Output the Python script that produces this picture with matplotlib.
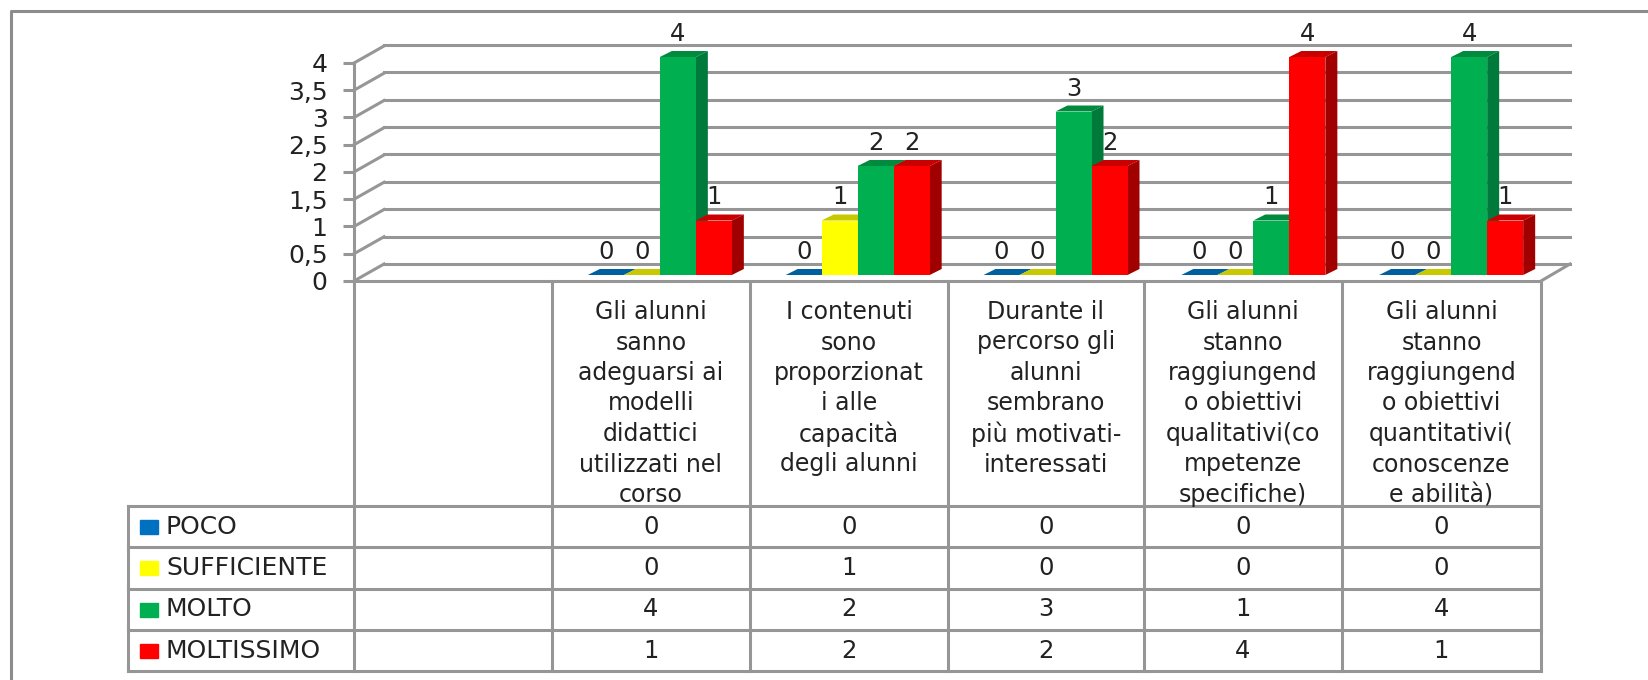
import matplotlib
matplotlib.use("Agg")
import matplotlib.pyplot as plt
from matplotlib.patches import Rectangle
from matplotlib.transforms import ScaledTranslation

W, H = 1649, 680
GREY = "#969696"
TXT = "#222222"

categories = [
    ["Gli alunni", "sanno", "adeguarsi ai", "modelli", "didattici", "utilizzati nel", "corso"],
    ["I contenuti", "sono", "proporzionat", "i alle", "capacità", "degli alunni"],
    ["Durante il", "percorso gli", "alunni", "sembrano", "più motivati-", "interessati"],
    ["Gli alunni", "stanno", "raggiungend", "o obiettivi", "qualitativi(co", "mpetenze", "specifiche)"],
    ["Gli alunni", "stanno", "raggiungend", "o obiettivi", "quantitativi(", "conoscenze", "e abilità)"],
]
series_names = ["POCO", "SUFFICIENTE", "MOLTO", "MOLTISSIMO"]
poco = [0, 0, 0, 0, 0]
sufficiente = [0, 1, 0, 0, 0]
molto = [4, 2, 3, 1, 4]
moltissimo = [1, 2, 2, 4, 1]
y_ticks = [0, 0.5, 1, 1.5, 2, 2.5, 3, 3.5, 4]
y_labels = ["0", "0,5", "1", "1,5", "2", "2,5", "3", "3,5", "4"]

all_series = [poco, sufficiente, molto, moltissimo]
front_cols = ["#0070C0", "#FFFF00", "#00B050", "#FF0000"]
top_cols = ["#005F9E", "#C8C800", "#008A3E", "#C80000"]
side_cols = ["#005080", "#A0A000", "#007A3A", "#A00000"]

plt.rcParams["font.family"] = ["DejaVu Sans"]
plt.rcParams["font.size"] = 16


def ax_px(fig, left, top, right, bottom):
    a = fig.add_axes([left / W, 1 - bottom / H, (right - left) / W, (bottom - top) / H])
    a.patch.set_alpha(0)
    return a


fig = plt.figure(figsize=(W / 100, H / 100), dpi=100, facecolor="white")

# page coords, frame + data table
page = ax_px(fig, 0, 0, W, H)
page.set_xlim(0, W)
page.set_ylim(H, 0)
page.axis("off")
page.plot([11, 11, W], [H, 11, 11], color="#8c8c8c", lw=2.2)

col_x = [354, 552, 750, 948, 1144, 1342, 1541]
row_y = [506, 547, 589, 630, 671]
for x in col_x:
    page.plot([x, x], [281, 671], color=GREY, lw=2.2)
page.plot([354, 1541], [281, 281], color=GREY, lw=2.2)
page.plot([128, 128], [506, 671], color=GREY, lw=2.2)
for y in row_y:
    page.plot([128, 1541], [y, y], color=GREY, lw=2.2)

for i, lines in enumerate(categories):
    xc = (col_x[i + 1] + col_x[i + 2]) / 2
    for j, line in enumerate(lines):
        page.text(xc, 312 + j * 30.5, line, ha="center", va="center", color=TXT, fontsize=17)

for r, name in enumerate(series_names):
    yc = (row_y[r] + row_y[r + 1]) / 2
    page.add_patch(Rectangle((140, yc - 7), 18, 14, color=front_cols[r]))
    page.text(166, yc, name, ha="left", va="center", color=TXT, fontsize=18)
    for i, v in enumerate(all_series[r]):
        xc = (col_x[i + 1] + col_x[i + 2]) / 2
        page.text(xc, yc, str(v), ha="center", va="center", color=TXT, fontsize=17.5)

# back wall
wall = ax_px(fig, 384, 45, 1570, 264)
wall.set_ylim(0, 4)
wall.set_xticks([])
wall.set_yticks(y_ticks)
wall.tick_params(left=False, labelleft=False)
wall.grid(axis="y", color=GREY, lw=2.2)
wall.set_axisbelow(True)
for s in wall.spines.values():
    s.set_visible(False)
for t in wall.yaxis.get_gridlines():
    t.set_clip_on(False)

# front axis with the ticks
front = ax_px(fig, 354, 63, 1541, 281)
front.set_xlim(-0.5, 5.5)
front.set_ylim(0, 4)
front.set_xticks([])
front.set_yticks(y_ticks)
front.set_yticklabels(y_labels, color=TXT, fontsize=18)
front.tick_params(axis="y", length=8, width=2.2, color=GREY, pad=11)
for s in ["top", "right", "bottom"]:
    front.spines[s].set_visible(False)
front.spines["left"].set_color(GREY)
front.spines["left"].set_linewidth(2.2)

# diagonals from the axis to the wall
wx = 30 / (1187 / 6)
wy = 17 / (218 / 4)
for t in y_ticks:
    front.plot([-0.5, -0.5 + wx], [t, t + wy], color=GREY, lw=2.2, clip_on=False)
front.plot([5.5, 5.5 + 29 / (1187 / 6)], [0, wy], color=GREY, lw=2.2, clip_on=False)

# bars
bars = ax_px(fig, 354, 57, 1541, 275)
bars.set_xlim(-0.5, 5.5)
bars.set_ylim(0, 4)
bars.axis("off")

bw = 36 / (1187 / 6)
dx = 12 / (1187 / 6)
dy = 6 / (218 / 4)
lift = bars.transData + ScaledTranslation(0, 23 / 100, fig.dpi_scale_trans)
for s, vals in enumerate(all_series):
    for c, v in enumerate(vals):
        left = c + 1 - 0.318 + s * bw
        right = left + bw
        z = 3 + s + c * 10
        bars.text(left + bw / 2, v, str(v), ha="center", va="center", color=TXT, fontsize=17.5,
                  zorder=2, clip_on=False, transform=lift)
        bars.fill([left, left + dx, right + dx, right], [v, v + dy, v + dy, v],
                  color=top_cols[s], lw=0, zorder=z, clip_on=False)
        if v > 0:
            bars.fill([right, right + dx, right + dx, right], [0, dy, v + dy, v],
                      color=side_cols[s], lw=0, zorder=z, clip_on=False)
            bars.bar(left, v, width=bw, align="edge", color=front_cols[s], lw=0, zorder=z + 0.5)

fig.savefig("out.png", dpi=100)
